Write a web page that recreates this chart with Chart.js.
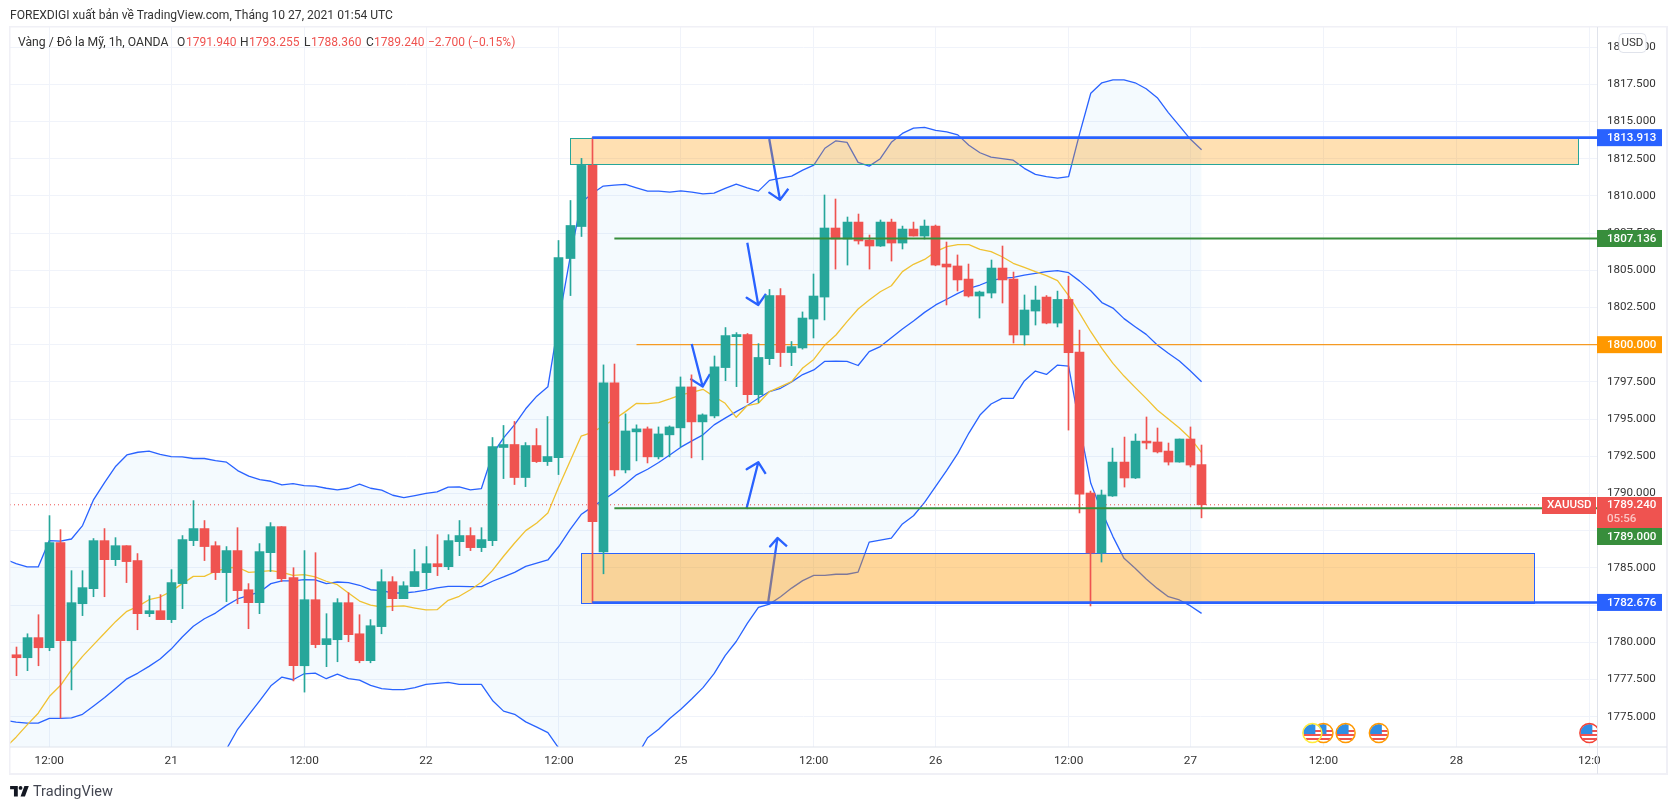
<!DOCTYPE html>
<html><head><meta charset="utf-8">
<style>
html,body{margin:0;padding:0;background:#fff;overflow:hidden}
#wrap{position:relative;width:1677px;height:809px}
canvas{position:absolute;left:0;top:0}
.t{position:absolute;white-space:nowrap;font-family:Roboto,sans-serif;color:#333;line-height:14px}
.r{color:#ef5350}
</style>
<script src="https://cdn.jsdelivr.net/npm/chart.js@4"></script>
</head><body><div id="wrap">
<canvas id="c" width="1677" height="809" style="width:1677px;height:809px"></canvas>
<div class="t" style="left:10px;top:8px;font-size:12.08px">FOREXDIGI xuất bản về TradingView.com, Tháng 10 27, 2021 01:54 UTC</div>
<div class="t" style="left:18px;top:35px;font-size:12.2px">Vàng / Đô la Mỹ, 1h, OANDA</div>
<div class="t" style="left:177px;top:35px;font-size:12px">O</div><div class="t r" style="left:186px;top:35px;font-size:12px">1791.940</div>
<div class="t" style="left:240px;top:35px;font-size:12px">H</div><div class="t r" style="left:249px;top:35px;font-size:12px">1793.255</div>
<div class="t" style="left:304px;top:35px;font-size:12px">L</div><div class="t r" style="left:311px;top:35px;font-size:12px">1788.360</div>
<div class="t" style="left:366px;top:35px;font-size:12px">C</div><div class="t r" style="left:374px;top:35px;font-size:12px">1789.240</div>
<div class="t r" style="left:428px;top:35px;font-size:12px">−2.700 (−0.15%)</div>
<svg style="position:absolute;left:10px;top:786px" width="20" height="11" viewBox="0 0 36 20"><path fill="#131722" d="M14 0H0v6h7v13h7V0zM27 19h-8l7-19h8l-7 19zM19 7a3.5 3.5 0 1 0 0-7 3.5 3.5 0 0 0 0 7z"/></svg>
<div class="t" style="left:33px;top:785px;font-size:14.5px;color:#434651">TradingView</div>
</div>
<script>
const openPrices=[1779.16,1778.96,1780.31,1779.63,1786.70,1780.10,1782.59,1783.60,1786.83,1785.55,1786.49,1785.49,1781.92,1782.12,1781.52,1783.94,1786.83,1787.64,1786.49,1784.68,1786.16,1783.53,1782.66,1786.02,1787.77,1784.34,1778.42,1782.86,1779.84,1780.17,1782.66,1780.57,1778.76,1781.05,1784.07,1782.93,1783.74,1784.68,1785.28,1785.08,1786.76,1787.17,1786.36,1786.83,1793.09,1793.29,1791.07,1793.22,1792.14,1792.41,1805.79,1807.94,1812.05,1786.07,1797.43,1791.58,1794.14,1794.34,1792.46,1793.94,1794.41,1797.16,1794.81,1795.21,1798.46,1800.54,1800.68,1796.64,1799.06,1803.30,1799.47,1799.78,1801.72,1803.20,1807.84,1807.10,1808.24,1807.03,1806.63,1808.24,1806.83,1807.77,1807.30,1807.97,1805.42,1805.29,1804.41,1803.27,1803.47,1805.15,1804.41,1800.65,1802.26,1803.20,1801.45,1803.04,1799.51,1790.03,1786.00,1789.83,1792.11,1791.04,1793.52,1793.46,1792.85,1792.11,1793.66,1791.94];
const highPrices=[1779.68,1780.57,1781.85,1788.51,1787.57,1784.81,1784.81,1786.97,1787.64,1787.03,1786.49,1785.96,1783.13,1783.20,1784.88,1787.17,1789.52,1788.18,1786.76,1786.43,1787.70,1783.94,1786.63,1788.04,1787.77,1785.01,1786.16,1786.02,1781.92,1782.93,1783.33,1781.85,1781.52,1784.88,1784.41,1784.07,1786.23,1786.43,1787.23,1787.23,1788.18,1787.70,1787.70,1793.76,1794.57,1794.84,1793.42,1794.36,1795.17,1807.00,1809.69,1812.52,1813.91,1798.64,1798.70,1795.35,1794.61,1794.47,1794.47,1794.54,1797.83,1797.97,1795.35,1799.24,1801.15,1800.81,1800.75,1800.07,1803.71,1803.77,1800.21,1802.20,1804.75,1810.06,1809.79,1808.58,1808.78,1807.37,1808.38,1808.44,1807.97,1808.24,1808.38,1808.04,1806.90,1806.03,1805.42,1803.60,1805.69,1806.63,1804.88,1803.34,1803.94,1803.30,1803.60,1804.60,1800.98,1790.16,1790.23,1793.05,1793.79,1794.00,1795.14,1794.40,1793.39,1793.66,1794.47,1793.255];
const lowPrices=[1777.75,1778.09,1778.42,1779.43,1774.90,1776.80,1781.79,1783.06,1783.06,1785.15,1784.01,1780.84,1781.72,1781.52,1781.32,1782.26,1786.49,1785.49,1784.21,1782.73,1782.59,1780.91,1781.92,1784.75,1784.07,1777.40,1776.65,1779.63,1778.36,1778.69,1780.04,1778.62,1778.62,1780.57,1782.12,1782.93,1783.74,1783.60,1784.48,1784.88,1785.82,1786.16,1786.09,1786.49,1791.00,1790.60,1790.46,1792.08,1791.88,1791.27,1803.30,1807.27,1782.60,1784.60,1791.18,1791.38,1792.19,1792.05,1792.32,1792.46,1793.13,1792.39,1792.26,1795.08,1797.58,1797.18,1796.10,1796.10,1798.66,1798.53,1798.59,1799.70,1800.45,1801.66,1805.08,1805.35,1806.76,1805.08,1806.60,1805.62,1806.43,1807.30,1807.10,1805.30,1802.67,1803.61,1803.20,1801.79,1803.14,1802.80,1800.11,1799.98,1801.32,1801.40,1801.19,1794.26,1788.69,1782.44,1785.39,1789.80,1790.43,1791.00,1792.99,1792.72,1791.91,1792.10,1791.78,1788.36];
const closePrices=[1778.96,1780.31,1779.63,1786.70,1780.10,1782.66,1783.67,1786.83,1785.55,1786.49,1785.42,1781.92,1782.12,1781.52,1784.01,1786.90,1787.64,1786.43,1784.68,1786.16,1783.47,1782.66,1786.09,1787.77,1784.27,1778.42,1782.86,1779.84,1780.24,1782.66,1780.51,1778.76,1781.11,1784.07,1782.93,1783.80,1784.75,1785.28,1785.08,1786.83,1787.17,1786.36,1786.90,1793.15,1793.29,1791.07,1793.22,1792.14,1792.48,1805.86,1808.01,1812.05,1788.10,1797.43,1791.58,1794.20,1794.34,1792.46,1794.00,1794.47,1797.16,1794.81,1795.28,1798.51,1800.61,1800.68,1796.64,1799.14,1803.30,1799.47,1799.87,1801.79,1803.27,1807.84,1807.10,1808.24,1806.97,1806.63,1808.24,1806.83,1807.77,1807.30,1807.97,1805.35,1805.22,1804.35,1803.27,1803.54,1805.15,1804.35,1800.65,1802.33,1803.00,1801.45,1803.04,1799.46,1789.96,1786.00,1789.90,1792.11,1791.04,1793.52,1793.39,1792.79,1792.11,1793.66,1791.91,1789.24];
const upperBand=[1785.60,1785.28,1785.06,1785.06,1786.83,1786.79,1786.94,1787.84,1789.59,1790.75,1791.83,1792.59,1792.77,1792.84,1792.62,1792.48,1792.46,1792.35,1792.35,1792.21,1792.10,1791.54,1791.16,1790.93,1790.82,1790.57,1790.66,1790.53,1790.49,1790.35,1790.24,1790.35,1790.62,1790.35,1790.22,1789.88,1789.72,1789.86,1790.01,1790.10,1790.42,1790.44,1790.24,1790.33,1792.62,1793.74,1794.63,1795.69,1796.54,1797.17,1801.69,1805.84,1809.54,1810.16,1810.66,1810.72,1810.77,1810.54,1810.32,1810.32,1810.25,1810.34,1810.25,1810.14,1810.18,1810.50,1810.79,1810.54,1810.32,1811.04,1811.19,1811.33,1811.73,1812.07,1813.20,1813.70,1813.60,1812.25,1812.00,1812.50,1813.60,1814.20,1814.55,1814.60,1814.40,1814.30,1814.10,1813.40,1812.90,1812.60,1812.50,1812.40,1811.85,1811.45,1811.30,1811.20,1811.30,1814.20,1816.90,1817.60,1817.80,1817.80,1817.60,1817.20,1816.60,1815.60,1814.70,1813.80,1813.10];
const middleBand=[1774.75,1774.63,1774.56,1774.56,1774.89,1774.89,1774.92,1775.16,1775.72,1776.28,1776.91,1777.54,1777.93,1778.38,1778.87,1779.54,1780.35,1781.07,1781.58,1781.96,1782.48,1782.91,1783.15,1783.38,1783.94,1784.12,1784.12,1784.21,1784.19,1783.94,1784.05,1784.01,1783.83,1783.53,1783.47,1783.31,1783.31,1783.38,1783.51,1783.65,1783.76,1783.76,1783.74,1783.74,1784.10,1784.39,1784.70,1785.10,1785.31,1785.53,1786.45,1787.57,1788.58,1789.10,1789.57,1790.06,1790.64,1791.25,1791.63,1792.08,1792.59,1793.11,1793.53,1793.94,1794.61,1795.06,1795.50,1795.91,1796.40,1796.85,1797.07,1797.50,1797.99,1798.30,1798.88,1798.90,1798.88,1798.60,1799.53,1799.87,1800.47,1801.05,1801.59,1802.17,1802.67,1803.05,1803.45,1803.79,1804.01,1804.30,1804.46,1804.52,1804.68,1804.79,1804.91,1804.98,1804.84,1804.27,1803.62,1802.83,1802.46,1801.75,1801.21,1800.69,1799.98,1799.42,1798.90,1798.23,1797.51];
const lowerBand=[1770.8,1770.6,1770.4,1770.3,1770.0,1769.8,1769.7,1769.7,1769.8,1770.0,1770.2,1770.5,1770.8,1771.1,1771.2,1771.3,1771.5,1771.7,1772.0,1772.3,1772.83,1774.15,1775.12,1776.08,1777.07,1777.66,1777.48,1777.88,1777.93,1777.55,1777.86,1777.55,1777.46,1777.10,1776.88,1776.81,1776.81,1776.95,1777.17,1777.24,1777.31,1777.17,1777.17,1777.17,1776.09,1775.37,1775.16,1774.65,1774.30,1773.93,1772.86,1771.2,1769.6,1768.5,1768.6,1769.4,1770.6,1772.3,1773.58,1774.15,1774.87,1775.50,1776.20,1776.95,1777.89,1779.10,1780.05,1781.27,1782.35,1782.56,1783.06,1783.64,1784.14,1784.50,1784.50,1784.57,1784.57,1784.72,1786.73,1786.87,1787.00,1787.95,1788.50,1789.40,1790.47,1791.55,1792.69,1794.06,1795.27,1796.01,1796.39,1796.39,1797.56,1798.23,1798.00,1798.63,1798.56,1794.49,1790.68,1788.78,1787.10,1785.64,1784.97,1784.25,1783.62,1783.06,1782.84,1782.44,1781.94];
const maLine=[1772.90,1773.62,1774.45,1775.23,1776.35,1777.09,1778.15,1779.05,1779.84,1780.62,1781.40,1782.08,1782.41,1782.86,1783.04,1783.42,1783.94,1784.43,1784.43,1784.77,1784.99,1785.04,1784.70,1784.75,1784.81,1784.70,1784.50,1784.54,1784.39,1784.10,1783.87,1783.31,1782.77,1782.50,1782.37,1782.41,1782.44,1782.30,1782.17,1782.19,1782.82,1783.09,1783.53,1784.03,1784.83,1785.78,1786.67,1787.50,1788.02,1788.69,1790.49,1792.17,1793.85,1794.10,1794.54,1794.99,1795.50,1796.06,1796.04,1796.11,1796.35,1796.62,1796.80,1797.00,1796.51,1796.06,1795.12,1795.91,1796.06,1796.85,1797.18,1797.52,1798.43,1799.01,1799.98,1800.65,1801.55,1802.40,1803.00,1803.56,1803.96,1804.91,1805.40,1805.73,1806.25,1806.59,1806.72,1806.72,1806.41,1806.25,1805.91,1805.47,1805.20,1804.91,1804.64,1804.30,1803.30,1802.10,1800.87,1799.75,1798.74,1797.89,1797.13,1796.39,1795.61,1795.00,1794.40,1793.70,1792.74];
const firstBar=-3;
const firstBandBar=-4;
const lastPrice=1789.24;
const xTickBars=[0,11,23,34,46,57,69,80,92,103,115,127,139];
const xTickLabels=['12:00','21','12:00','22','12:00','25','12:00','26','12:00','27','12:00','28','12:0'];
const yTicks=[1775,1777.5,1780,1782.5,1785,1787.5,1790,1792.5,1795,1797.5,1800,1802.5,1805,1807.5,1810,1812.5,1815,1817.5,1820];
const zoneBars=[[47,138],[48,134]];
const zonePrices=[[1813.91,1812.16],[1786.02,1782.62]];
const levelPrices=[1813.913,1807.136,1800,1789,1782.676];
const levelStartBars=[49,51,53,51,49];
const arrowBars=[[64.98,65.95,64.98,65.95,66.7],[63,63.99,62.94,63.99,64.68],[57.98,58.97,57.92,58.97,59.63],[62.92,63.99,62.94,63.99,64.66],[64.86,65.72,65.05,65.72,66.58]];
const arrowPrices=[[1813.82,1809.73,1810.22,1809.73,1810.48],[1806.85,1802.67,1803.16,1802.67,1803.41],[1800.05,1797.18,1797.67,1797.18,1798.03],[1788.96,1792.10,1791.63,1792.10,1791.31],[1782.57,1787.01,1786.44,1787.01,1786.44]];
const eventBars=[139,115,117,120,114];
const priceTags=['1813.913','1807.136','1800.000','1782.676'];
const RED='#ef5350',GREEN='#26a69a',BLUE='#2962ff',LGREEN='#388e3c',ORANGE='#f59a23';
const FONT='Roboto, sans-serif';
const barX=openPrices.map((_,k)=>k+firstBar);
const series=a=>a.map((v,k)=>({x:k+firstBandBar,y:v}));
const candleCol=openPrices.map((o,k)=>closePrices[k]<o?RED:GREEN);
const line=(data,color,order,w,extra)=>Object.assign({type:'line',data,borderColor:color,borderWidth:w,pointRadius:0,tension:0,order,fill:false,borderJoinStyle:'round'},extra||{});
const xMax=139.69,xMin=-3.547;
const levelLine=(k,color,order,w)=>line([{x:levelStartBars[k],y:levelPrices[k]},{x:xMax,y:levelPrices[k]}],color,order,w);

const tvPlugin={id:'tv',
 beforeDatasetsDraw(chart){
  chart.data.datasets.forEach((d,n)=>{ if(d.type==='bar') chart.getDatasetMeta(n).data.forEach(e=>{e.x=Math.round(e.x-0.5)+0.5;}); });
 },
 beforeDatasetDraw(chart,args){
  if(chart.data.datasets[args.index].label!=='wicks')return;
  const {ctx,scales:{x,y},chartArea:a}=chart;
  ctx.save();ctx.beginPath();ctx.rect(a.left,a.top,a.width,a.height);ctx.clip();
  zoneBars.forEach((b,k)=>{
    const x0=Math.round(x.getPixelForValue(b[0]))+.5,x1=Math.round(x.getPixelForValue(b[1]))+.5;
    const y0=Math.round(y.getPixelForValue(zonePrices[k][0]))+.5,y1=Math.round(y.getPixelForValue(zonePrices[k][1]))+.5;
    ctx.fillStyle=k===0?'rgba(255,152,0,.3)':'rgba(255,152,0,.4)';
    ctx.fillRect(x0,y0,x1-x0,y1-y0);
    ctx.strokeStyle=k===0?GREEN:BLUE;ctx.lineWidth=1;ctx.strokeRect(x0,y0,x1-x0,y1-y0);
  });
  ctx.restore();
 },
 afterDraw(chart){
  const {ctx,scales:{x,y},chartArea:a}=chart;
  ctx.save();
  ctx.save();ctx.beginPath();ctx.rect(a.left,a.top,a.width,a.height);ctx.clip();
  eventBars.forEach(b=>{
    const cx=x.getPixelForValue(b),cy=733,r=10;
    ctx.save();ctx.beginPath();ctx.arc(cx,cy,r-1,0,Math.PI*2);ctx.clip();
    ctx.fillStyle='#fff';ctx.fillRect(cx-r,cy-r,2*r,2*r);
    ctx.fillStyle='#ef5350';[-3,1,5].forEach(o=>ctx.fillRect(cx-r,cy+o,2*r,2));
    ctx.fillStyle='#2f8de4';ctx.fillRect(cx-r,cy-r,r+3,r+1);
    ctx.restore();
    ctx.beginPath();ctx.arc(cx,cy,r-.5,0,Math.PI*2);ctx.lineWidth=1.5;
    ctx.strokeStyle=b===139?'#f44336':b===114?'#ffeb3b':'#ff9800';ctx.stroke();
  });
  ctx.restore();
  ctx.fillStyle='#f0f0f6';
  ctx.fillRect(9,26,1658,1.5);ctx.fillRect(9,26,1.5,749);ctx.fillRect(1666,26,2,749);ctx.fillRect(9,773,1659,2);
  ctx.fillStyle='#e0e3eb';ctx.fillRect(10,746.5,1657,1);ctx.fillRect(1597,27,1,747);
  ctx.font='500 11.6px '+FONT;ctx.textBaseline='middle';ctx.textAlign='left';
  const tag=(yc,h,bg,txt)=>{ctx.fillStyle=bg;ctx.fillRect(1597,yc-h/2,65,h);ctx.fillStyle='#fff';ctx.fillText(txt,1607,yc+.5);};
  tag(y.getPixelForValue(levelPrices[0]),17,'#2962ff',priceTags[0]);
  tag(y.getPixelForValue(levelPrices[1]),17,LGREEN,priceTags[1]);
  tag(y.getPixelForValue(levelPrices[2]),17,'#ff9800',priceTags[2]);
  tag(y.getPixelForValue(levelPrices[4]),17,'#2962ff',priceTags[3]);
  ctx.fillStyle=RED;ctx.fillRect(1597,497,65,31);ctx.fillRect(1542,497,54,17);
  ctx.fillStyle='#fff';ctx.fillText('1789.240',1607,505.5);ctx.fillText('XAUUSD',1547,505.5);
  ctx.fillStyle='#fbc6c5';ctx.fillText('05:56',1607,519.5);
  tag(536.5,17,LGREEN,'1789.000');
  ctx.fillStyle='#fff';ctx.strokeStyle='#e0e3eb';ctx.lineWidth=1;
  ctx.beginPath();ctx.roundRect(1619,33.5,27,19,4);ctx.fill();ctx.stroke();
  ctx.fillStyle='#333';ctx.font='11.5px '+FONT;ctx.textAlign='center';ctx.fillText('USD',1632.5,43);
  ctx.restore();
 }
};

new Chart(document.getElementById('c'),{
 type:'bar',
 plugins:[tvPlugin],
 data:{datasets:[
  line(series(upperBand),BLUE,10,1.3,{fill:1,backgroundColor:'rgba(33,150,243,.05)'}),
  line(series(lowerBand),BLUE,10,1.3),
  line(series(middleBand),BLUE,9,1.3),
  line(series(maLine),'#f0c232',8,1.3),
  line([{x:xMin,y:lastPrice},{x:xMax,y:lastPrice}],RED,7,1,{borderDash:[1,3]}),
  levelLine(2,ORANGE,7,1.2),
  ...arrowBars.map((a,k)=>line(a.map((v,n)=>({x:v,y:arrowPrices[k][n]})),BLUE,6,2.3)),
  {type:'bar',label:'wicks',grouped:false,order:5,barThickness:1,borderWidth:0,backgroundColor:candleCol,
   data:barX.map((b,k)=>({x:b,y:[lowPrices[k],highPrices[k]]}))},
  {type:'bar',label:'bodies',grouped:false,order:4,barThickness:9,borderWidth:0,backgroundColor:candleCol,
   data:barX.map((b,k)=>({x:b,y:[openPrices[k],closePrices[k]]}))},
  levelLine(0,BLUE,3,2.6),
  levelLine(1,LGREEN,3,2),
  levelLine(3,LGREEN,3,2),
  levelLine(4,BLUE,3,2.6)
 ]},
 options:{
  responsive:false,animation:false,devicePixelRatio:1,events:[],
  layout:{padding:{left:10,top:27,right:10,bottom:35}},
  plugins:{legend:{display:false},tooltip:{enabled:false},title:{display:false}},
  scales:{
   x:{type:'linear',offset:false,min:xMin,max:xMax,
    grid:{offset:false,color:'#f0f3fa',drawTicks:false},border:{display:false},
    afterFit(s){s.height=27;},
    afterBuildTicks(s){s.ticks=xTickBars.map(v=>({value:v}));},
    ticks:{autoSkip:false,maxRotation:0,padding:7,color:'#333',font:{family:FONT,size:11.8},
      callback:v=>xTickLabels[xTickBars.indexOf(v)]}},
   y:{type:'linear',position:'right',min:1772.96,max:1821.35,
    grid:{color:'#f0f3fa',drawTicks:false},border:{display:false},
    afterFit(s){s.width=70;},
    afterBuildTicks(s){s.ticks=yTicks.map(v=>({value:v}));},
    ticks:{autoSkip:false,padding:10,color:'#333',font:{family:FONT,size:11.6},
      callback:v=>v.toFixed(3)}}
  }
 }
});
</script></body></html>
